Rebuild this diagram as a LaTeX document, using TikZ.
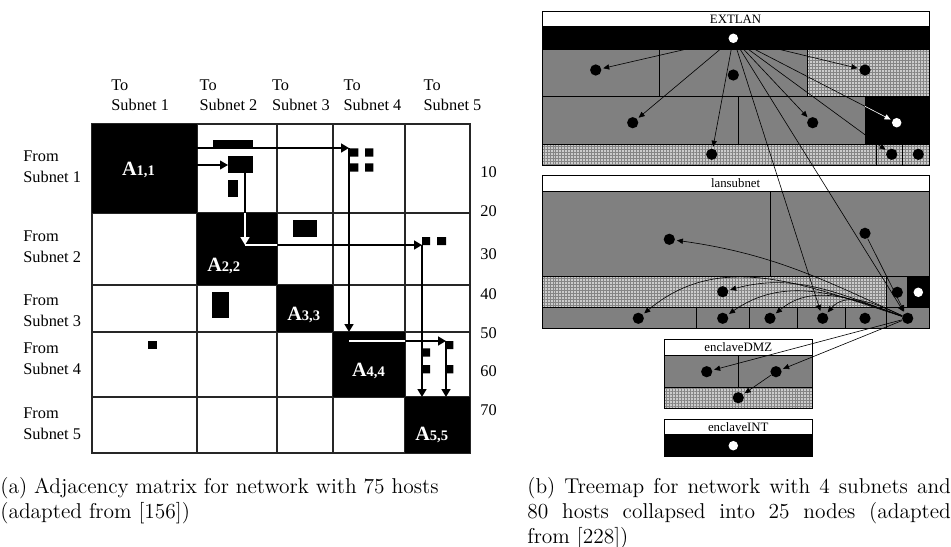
\documentclass[tikz,border=0pt]{standalone}
\usepackage{fontspec}
\newfontfamily\tnr{Liberation Serif}
\usetikzlibrary{arrows.meta,patterns.meta}

\definecolor{hatchbg}{gray}{0.80}
\definecolor{hatchln}{gray}{0.52}

\tikzset{
  lbl/.style={font=\tnr\fontsize{9.3}{11}\selectfont, anchor=base west, inner sep=0pt},
  alab/.style={text=white, font=\tnr\bfseries, anchor=base west, inner sep=0pt},
  mgrid/.style={draw=black!85, line width=0.6pt},
  marrow/.style={-{Triangle[length=4.5pt,width=5pt]}, line width=1.2pt},
  ttl/.style={font=\tnr\fontsize{7.3}{8}\selectfont, inner sep=0pt},
  gcell/.style={fill=gray, draw=black, line width=0.5pt},
  hcell/.style={preaction={fill=hatchbg}, pattern={Hatch[distance=1.7pt,angle=0,line width=0.25pt]},
    pattern color=hatchln, draw=black, line width=0.5pt},
  bcell/.style={fill=black, draw=black, line width=0.5pt},
  tcell/.style={fill=white, draw=black, line width=0.5pt},
  bdot/.style={circle, fill=black, inner sep=0pt, minimum size=6.4pt},
  wdot/.style={circle, fill=white, inner sep=0pt, minimum size=5.4pt},
  link/.style={-{Triangle[length=3.4pt,width=3pt]}, line width=0.35pt, shorten >=1pt},
  capt/.style={font=\fontsize{12.2}{14}\selectfont, anchor=base west, inner sep=0pt},
}

\begin{document}
\begin{tikzpicture}[x=0.569pt, y=-0.569pt]
    \useasboundingbox (0,0) rectangle (951,547);

    % (a) adjacency matrix
    \foreach \x [count=\i] in {111,199.3,271.7,343.3,423.3} {
        \node[lbl] (to\i) at (\x,90) {To};
        \node[lbl] (tsub\i) at (\x,110) {Subnet \i};
    }
    \foreach \i/\y in {1/161.7, 2/241.7, 3/305, 4/353.3, 5/418.3} {
        \node[lbl] (from\i) at (23,\y) {From};
        \node[lbl] (fsub\i) at (23,\y+21) {Subnet \i};
    }
    \foreach \n/\y in {10/177.3, 20/216.7, 30/259.3, 40/299.3, 50/338, 60/376.7, 70/415.3}
        \node[lbl] (num\n) at (480,\y) {\n};

    \draw[mgrid] (92,124) rectangle (470,453);
    \foreach \x in {197,277,333,405} \draw[mgrid] (\x,124) -- (\x,453);
    \foreach \y in {213,285,332,397} \draw[mgrid] (92,\y) -- (470,\y);

    \fill (92,124) rectangle (197,213);
    \fill (197,213) rectangle (277,285);
    \fill (277,285) rectangle (333,332);
    \fill (333,332) rectangle (405,397);
    \fill (405,397) rectangle (470,453);

    \fill (213,140) rectangle (253,148);
    \fill (228,156) rectangle (253,172.7);
    \fill (228,180) rectangle (238,196.7);
    \fill (349.3,148.3) rectangle (358.3,156.7) (365,148.3) rectangle (373.3,156.7);
    \fill (349.3,163.3) rectangle (358.3,171.7) (365,163.3) rectangle (373.3,171.7);
    \fill (293,220) rectangle (317,237);
    \fill (422,237) rectangle (430,245) (437,237) rectangle (446,245);
    \fill (212,292) rectangle (229,318);
    \fill (148,341) rectangle (157,349);
    \fill (421.7,348.3) rectangle (430,356.7) (421.7,365) rectangle (430,373.3);
    \fill (445.7,341) rectangle (453.3,349) (445.7,365) rectangle (453.3,373.3);

    \node[alab] (a11) at (121.7,175) {\fontsize{11.5}{12}\selectfont A\fontsize{8.3}{9}\selectfont 1,1};
    \node[alab] (a22) at (207,271.7) {\fontsize{11.5}{12}\selectfont A\fontsize{8.3}{9}\selectfont 2,2};
    \node[alab] (a33) at (287,320.7) {\fontsize{11.5}{12}\selectfont A\fontsize{8.3}{9}\selectfont 3,3};
    \node[alab] (a44) at (351.7,376.7) {\fontsize{11.5}{12}\selectfont A\fontsize{8.3}{9}\selectfont 4,4};
    \node[alab] (a55) at (415,440.7) {\fontsize{11.5}{12}\selectfont A\fontsize{8.3}{9}\selectfont 5,5};

    \coordinate (r1) at (197,148);
    \coordinate (c4top) at (349,148);
    \coordinate (c4bot) at (349,332);
    \coordinate (r2) at (197,165);
    \coordinate (b12) at (228,165);
    \coordinate (b12s) at (245,172.7);
    \coordinate (turn2) at (245,245);
    \coordinate (c5a) at (422,245);
    \coordinate (c5abot) at (422,397);
    \coordinate (turn4) at (349,341);
    \coordinate (c5b) at (446,341);
    \coordinate (c5bbot) at (446,397);

    \draw[marrow] (r1) -- (c4top);
    \draw[marrow, line width=0.6pt] (r2) -- (b12);
    \draw[marrow] (b12s) -- (turn2);
    \draw[marrow] (turn2) -- (c5a);
    \draw[marrow] (c4top) -- (c4bot);
    \draw[marrow] (turn4) -- (c5b);
    \draw[marrow] (c5a) -- (c5abot);
    \draw[marrow] (c5b) -- (c5bbot);
    \begin{scope}
        \clip (197,213) rectangle (277,285) (333,332) rectangle (405,397);
        \draw[marrow, white] (b12s) -- (turn2);
        \draw[marrow, white] (turn2) -- (c5a);
        \draw[marrow, white] (turn4) -- (c5b);
    \end{scope}

    % (b) treemap
    % EXTLAN
    \draw[tcell] (542.3,11.7) rectangle (929,26.7);
    \node[ttl] (extlan) at (735.6,19.2) {EXTLAN};
    \draw[bcell] (542.3,26.7) rectangle (929,49.3);
    \draw[gcell] (542.3,49.3) rectangle (659.3,96);
    \draw[gcell] (659.3,49.3) rectangle (807.3,96);
    \draw[hcell] (807.3,49.3) rectangle (929,96);
    \draw[gcell] (542.3,96) rectangle (738.3,144);
    \draw[gcell] (738.3,96) rectangle (865,144);
    \draw[bcell] (865,96) rectangle (929,144);
    \draw[hcell] (542.3,144) rectangle (876.7,165);
    \draw[hcell] (876.7,144) rectangle (902.3,165);
    \draw[hcell] (902.3,144) rectangle (929,165);

    % lansubnet
    \draw[tcell] (542.3,175) rectangle (929,191.7);
    \node[ttl] (lansub) at (735.6,183.3) {lansubnet};
    \draw[gcell] (542.3,191.7) rectangle (770,276.7);
    \draw[gcell] (770,191.7) rectangle (929,276.7);
    \draw[hcell] (542.3,276.7) rectangle (886.7,307.3);
    \draw[gcell] (886.7,276.7) rectangle (907.7,307.3);
    \draw[bcell] (907.7,276.7) rectangle (929,307.3);
    \foreach \a/\b in {542.3/696, 696/749, 749/797.3, 797.3/845, 845/886.7, 886.7/929}
        \draw[gcell] (\a,307.3) rectangle (\b,328.3);

    % enclaveDMZ
    \draw[tcell] (664.3,339.3) rectangle (812.3,355);
    \node[ttl] (dmz) at (738.3,347.2) {enclaveDMZ};
    \draw[gcell] (664.3,355) rectangle (738.3,387.3);
    \draw[gcell] (738.3,355) rectangle (812.3,387.3);
    \draw[hcell] (664.3,387.3) rectangle (812.3,408.3);

    % enclaveINT
    \draw[tcell] (664.3,419.3) rectangle (812.3,434);
    \node[ttl] (int) at (738.3,426.7) {enclaveINT};
    \draw[bcell] (664.3,434) rectangle (812.3,456);

    \node[wdot] (e0) at (733.3,38.3) {};
    \node[bdot] (e1) at (595.7,70) {};
    \node[bdot] (e2) at (733.3,75) {};
    \node[bdot] (e3) at (865,70) {};
    \node[bdot] (e4) at (632.7,122.7) {};
    \node[bdot] (e5) at (812.7,122.7) {};
    \node[wdot] (e6) at (896.7,122.7) {};
    \node[bdot] (e7) at (711.7,154.3) {};
    \node[bdot] (e8) at (891.7,154.3) {};
    \node[bdot] (e9) at (918.3,154.3) {};

    \node[bdot] (l1) at (669.3,239.3) {};
    \node[bdot] (l2) at (865,233.3) {};
    \node[bdot] (l3) at (722.7,291.7) {};
    \node[bdot] (l4) at (897.3,292.3) {};
    \node[wdot] (l5) at (918.3,292.3) {};
    \node[bdot] (b1) at (638.3,318.3) {};
    \node[bdot] (b2) at (722.7,318.3) {};
    \node[bdot] (b3) at (770,318.3) {};
    \node[bdot] (b4) at (822.7,318.3) {};
    \node[bdot] (b5) at (865,318.3) {};
    \node[bdot] (hub) at (907.7,318.3) {};

    \node[bdot] (d1) at (706.7,371.7) {};
    \node[bdot] (d2) at (776,371.7) {};
    \node[bdot] (d3) at (738.3,397.7) {};
    \node[wdot] (i1) at (733.3,445.7) {};

    \foreach \t in {e1,e3,e4,e5,e6,e7,e8,b4,hub}
        \draw[link] (e0) -- (\t);
    \begin{scope}
        \clip (865,96) rectangle (929,144);
        \draw[link, white] (e0) -- (e6);
    \end{scope}

    \draw[link] (l2) -- (hub);
    \draw[link] (hub) to[out=155, in=-8] (l1);
    \draw[link] (hub) to[out=160, in=15] (l3);
    \draw[link] (hub) to[out=162, in=40] (b1);
    \draw[link] (hub) to[out=160, in=35] (b2);
    \draw[link] (hub) to[out=160, in=40] (b3);
    \draw[link] (hub) to[out=155, in=50] (b4);
    \draw[link] (hub) -- (d1);
    \draw[link] (hub) -- (d2);
    \draw[link] (d2) -- (d3);

    % captions
    \node[capt] (capa1) at (0,493) {(a) Adjacency matrix for network with 75 hosts};
    \node[capt] (capa2) at (0,518) {(adapted from [156])};
    \node[capt] (capb1) at (527,493) {\hbox to 241pt{(b) Treemap for network with 4 subnets and}};
    \node[capt] (capb2) at (527,518) {\hbox to 241pt{80 hosts collapsed into 25 nodes (adapted}};
    \node[capt] (capb3) at (527,543) {from [228])};
\end{tikzpicture}
\end{document}
